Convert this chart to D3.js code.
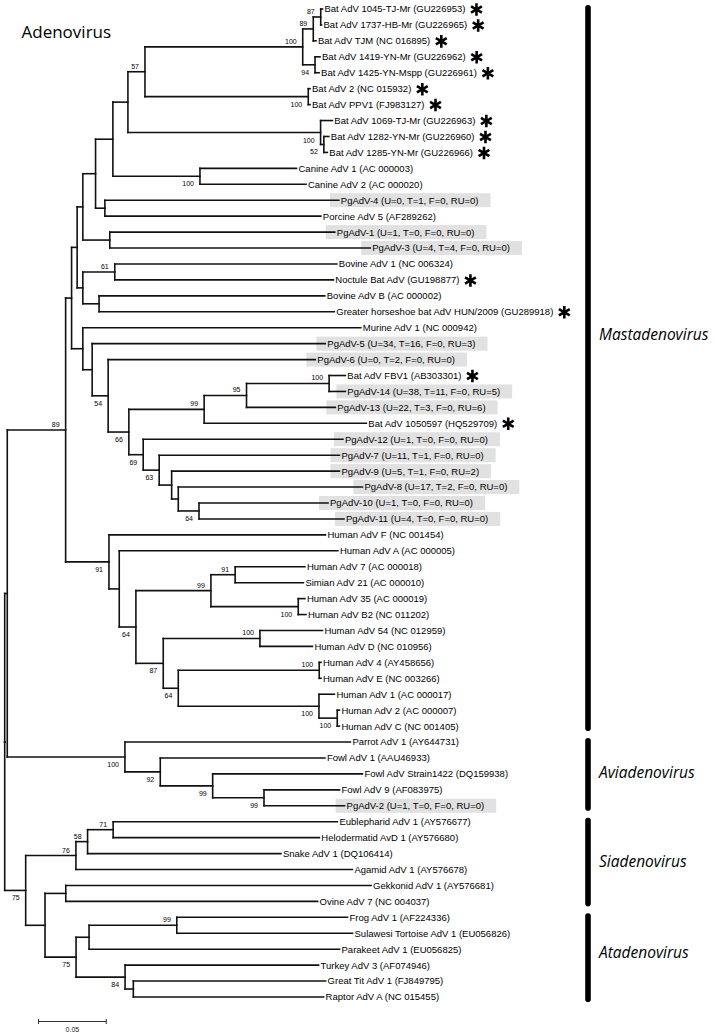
<!DOCTYPE html>
<html><head><meta charset="utf-8">
<script src="https://cdn.jsdelivr.net/npm/d3@7"></script>
<style>body{margin:0;background:#fff} svg{display:block} text{-webkit-font-smoothing:antialiased}</style>
</head><body>
<svg id="chart" width="715" height="1035"></svg>
<script>
// ---------------- DATA ----------------
const leafLabels = [
 "Bat AdV 1045-TJ-Mr (GU226953)","Bat AdV 1737-HB-Mr (GU226965)","Bat AdV TJM (NC 016895)",
 "Bat AdV 1419-YN-Mr (GU226962)","Bat AdV 1425-YN-Mspp (GU226961)","Bat AdV 2 (NC 015932)",
 "Bat AdV PPV1 (FJ983127)","Bat AdV 1069-TJ-Mr (GU226963)","Bat AdV 1282-YN-Mr (GU226960)",
 "Bat AdV 1285-YN-Mr (GU226966)","Canine AdV 1 (AC 000003)","Canine AdV 2 (AC 000020)",
 "PgAdV-4 (U=0, T=1, F=0, RU=0)","Porcine AdV 5 (AF289262)","PgAdV-1 (U=1, T=0, F=0, RU=0)",
 "PgAdV-3 (U=4, T=4, F=0, RU=0)","Bovine AdV 1 (NC 006324)","Noctule Bat AdV (GU198877)",
 "Bovine AdV B (AC 000002)","Greater horseshoe bat AdV HUN/2009 (GU289918)","Murine AdV 1 (NC 000942)",
 "PgAdV-5 (U=34, T=16, F=0, RU=3)","PgAdV-6 (U=0, T=2, F=0, RU=0)","Bat AdV FBV1 (AB303301)",
 "PgAdV-14 (U=38, T=11, F=0, RU=5)","PgAdV-13 (U=22, T=3, F=0, RU=6)","Bat AdV 1050597 (HQ529709)",
 "PgAdV-12 (U=1, T=0, F=0, RU=0)","PgAdV-7 (U=11, T=1, F=0, RU=0)","PgAdV-9 (U=5, T=1, F=0, RU=2)",
 "PgAdV-8 (U=17, T=2, F=0, RU=0)","PgAdV-10 (U=1, T=0, F=0, RU=0)","PgAdV-11 (U=4, T=0, F=0, RU=0)",
 "Human AdV F (NC 001454)","Human AdV A (AC 000005)","Human AdV 7 (AC 000018)",
 "Simian AdV 21 (AC 000010)","Human AdV 35 (AC 000019)","Human AdV B2 (NC 011202)",
 "Human AdV 54 (NC 012959)","Human AdV D (NC 010956)","Human AdV 4 (AY458656)",
 "Human AdV E (NC 003266)","Human AdV 1 (AC 000017)","Human AdV 2 (AC 000007)",
 "Human AdV C (NC 001405)","Parrot AdV 1 (AY644731)","Fowl AdV 1 (AAU46933)",
 "Fowl AdV Strain1422 (DQ159938)","Fowl AdV 9 (AF083975)","PgAdV-2 (U=1, T=0, F=0, RU=0)",
 "Eublepharid AdV 1 (AY576677)","Helodermatid AvD 1 (AY576680)","Snake AdV 1 (DQ106414)",
 "Agamid AdV 1 (AY576678)","Gekkonid AdV 1 (AY576681)","Ovine AdV 7 (NC 004037)",
 "Frog AdV 1 (AF224336)","Sulawesi Tortoise AdV 1 (EU056826)","Parakeet AdV 1 (EU056825)",
 "Turkey AdV 3 (AF074946)","Great Tit AdV 1 (FJ849795)","Raptor AdV A (NC 015455)"
];
// leaves found in pigeons (grey box) and bat viruses (asterisk)
const highlightedLeaves = [12,14,15,21,22,24,25,27,28,29,30,31,32,50];
const batLeaves = [0,1,2,3,4,5,6,7,8,9,17,19,23,26];

// Tree (Newick, leaf names = index in leafLabels, internal names = bootstrap, lengths = subst./site)
const batSubtree = "(((((0:0.0013,1:0.0006)87:0.0055,2:0.0020)89:0.0078,(3:0.0037,4:0.0030)94:0.0091)100:0.1165,(5:0.0013,6:0.0013)100:0.1206)57:0.0126,(7:0.0087,(8:0.0037,9:0.0026)52:0.0024)100:0.1423)";
const mammalSubtree = `((((((${batSubtree}:0.0111,(10:0.0713,11:0.0783)100:0.0643):0.0128,(12:0.1728,13:0.1595):0.0069):0.0094,(14:0.1662,15:0.1924):0.0199):0.0042,((16:0.1640,17:0.1614)61:0.0236,(18:0.1667,19:0.1737):0.0120):0.0042)`;
const pigeonSubtree = "((((23:0.0120,24:0.0120)100:0.0610,25:0.0656)95:0.0313,26:0.1198)99:0.0556,(27:0.1475,(28:0.1331,(29:0.1239,(30:0.1360,(31:0.0953,32:0.1071)64:0.0153):0.0049):0.0092)63:0.0118)69:0.0106)66";
const murineSubtree = `(20:0.2053,(21:0.1722,(22:0.1530,${pigeonSubtree}:0.0153)54:0.0118):0.0069)`;
const humanSubtree = "(33:0.1599,(34:0.1615,(((35:0.0515,36:0.0504)91:0.0179,(37:0.0049,38:0.0057)100:0.0645)99:0.0554,((39:0.0462,40:0.0388)100:0.0714,((41:0.0013,42:0.0013)100:0.1041,(43:0.0114,(44:0.0016,45:0.0016)100:0.0135)100:0.1039)64:0.0111)87:0.0202)64:0.0123):0.0076)91";
const aviSubtree = "(46:0.1665,(47:0.1216,(48:0.1106,(49:0.0558,50:0.0595)99:0.0379)99:0.0387)92:0.0261)100";
const siaAtaSubtree = "((((51:0.1656,52:0.1523)71:0.0189,53:0.1428)58:0.0086,54:0.2042)76:0.0371,((55:0.2255,56:0.1860):0.0153,(((57:0.1261,58:0.1298)99:0.0648,59:0.1850):0.0096,(60:0.1429,(61:0.1420,62:0.1405):0.0061)84:0.0362)75:0.0229):0.0143)75";
const newick = `((((${mammalSubtree}:0.0041,${murineSubtree}:0.0083):0.0044,${humanSubtree}:0.0320)89:0.0431,${aviSubtree}:0.0869):0.0019,${siaAtaSubtree}:0.0155);`;

const groupNames = ["Mastadenovirus","Aviadenovirus","Siadenovirus","Atadenovirus"];
const groupFirstLeaf = [0,46,51,57];
const groupLastLeaf = [45,50,56,62];
const groupLabelRow = [20.45,47.9,53.5,59.2];

const scaleBarValue = 0.05;
const titleText = "Adenovirus";

// ---------------- PARSE ----------------
function parseNewick(s){
  let i=0;
  function node(){
    const n={};
    if(s[i]==='('){
      n.children=[]; i++;
      n.children.push(node());
      while(s[i]===','){i++; n.children.push(node());}
      i++;
    }
    let name=''; while(i<s.length && !':,);'.includes(s[i])) name+=s[i++];
    n.name=name.trim();
    n.length=0;
    if(s[i]===':'){i++; let l=''; while(i<s.length && !',);'.includes(s[i])) l+=s[i++]; n.length=+l;}
    return n;
  }
  return node();
}
const root = d3.hierarchy(parseNewick(newick));

// ---------------- SCALES ----------------
const pxPerUnit = 1354;
const x = d3.scaleLinear().domain([0,0.3]).range([4.7, 4.7+0.3*pxPerUnit]);
const y = d3.scaleLinear().domain([0,leafLabels.length-1]).range([9,997]);

root.eachBefore(n => { n.dist = n.parent ? n.parent.dist + n.data.length : 0; });
root.eachAfter(n => {
  if(n.children){ n.py = (n.children[0].py + n.children[n.children.length-1].py)/2; }
  else { n.py = y(+n.data.name); }
  n.px = x(n.dist);
});

const svg = d3.select("#chart");
const ink = "#111";
const sans = "'Liberation Sans', Arial, sans-serif";

// title
svg.append("text").attr("x",21.5).attr("y",38).attr("font-family","'Open Sans', sans-serif")
  .attr("font-size",17).attr("fill","#000").text(titleText);

const boxG = svg.append("g");
const linkG = svg.append("g").attr("fill","none").attr("stroke",ink).attr("stroke-width",1.6).attr("stroke-linecap","square");
const textG = svg.append("g");

// horizontal branches
linkG.selectAll("path.h").data(root.descendants().filter(d=>d.parent)).join("path")
  .attr("d", d => `M${d.parent.px},${d.py}H${d.px}`);
// vertical connectors
linkG.selectAll("path.v").data(root.descendants().filter(d=>d.children)).join("path")
  .attr("d", d => `M${d.px},${d.children[0].py}V${d.children[d.children.length-1].py}`);

// bootstrap values
textG.selectAll("text.bs").data(root.descendants().filter(d=>d.children && d.data.name && d.parent)).join("text")
  .attr("x", d => d.px - 6)
  .attr("y", d => d.parent.children[0]===d ? d.py - 3 : d.py + 10)
  .attr("text-anchor","end").attr("font-family",sans).attr("font-size",7).attr("fill","#000")
  .text(d => d.data.name);

// leaf labels
const leaves = root.leaves();
const labels = textG.selectAll("text.leaf").data(leaves).join("text")
  .attr("x", d => d.px + 2).attr("y", d => d.py).attr("dy","0.36em")
  .attr("font-family",sans).attr("font-size",9.5).attr("fill","#000")
  .text(d => leafLabels[+d.data.name]);

labels.each(function(d){ d.tw = this.getComputedTextLength(); });

// grey boxes
boxG.selectAll("rect").data(leaves.filter(d=>highlightedLeaves.includes(+d.data.name))).join("rect")
  .attr("x", d => d.px + 2 - 11).attr("y", d => d.py - 7)
  .attr("width", d => d.tw + 23).attr("height",14).attr("fill","#e1e1e1");

// asterisks for bat viruses
const star = d3.symbol().type(d3.symbolAsterisk).size(110);
textG.selectAll("path.star").data(leaves.filter(d=>batLeaves.includes(+d.data.name))).join("path")
  .attr("transform", d => `translate(${d.px + 2 + d.tw + 11},${d.py + 0.5})`)
  .attr("d", star).attr("stroke","#000").attr("stroke-width",2.6).attr("fill","none");

// group bars & labels
const barX = 588;
const groups = groupNames.map((g,i)=>({name:g, y1:y(groupFirstLeaf[i])-4, y2:y(groupLastLeaf[i])+5, ly:y(groupLabelRow[i])}));
svg.append("g").selectAll("line").data(groups).join("line")
  .attr("x1",barX).attr("x2",barX).attr("y1",d=>d.y1+2.8).attr("y2",d=>d.y2-2.8)
  .attr("stroke","#000").attr("stroke-width",5.6).attr("stroke-linecap","round");
svg.append("g").selectAll("text").data(groups).join("text")
  .attr("x",599).attr("y",d=>d.ly).attr("dy","0.35em")
  .attr("font-family","'Open Sans', sans-serif").attr("font-style","italic").attr("font-size",15.5).attr("fill","#000")
  .text(d=>d.name);

// scale bar
const sbY = 1021.5, sb0 = 0.025;
const sb = svg.append("g").attr("stroke","#333").attr("stroke-width",1);
sb.append("line").attr("x1",x(sb0)).attr("x2",x(sb0+scaleBarValue)).attr("y1",sbY).attr("y2",sbY);
[sb0, sb0+scaleBarValue].forEach(v => sb.append("line").attr("x1",x(v)).attr("x2",x(v)).attr("y1",sbY-2.5).attr("y2",sbY+2.5));
svg.append("text").attr("x",(x(sb0)+x(sb0+scaleBarValue))/2).attr("y",1031.5).attr("text-anchor","middle")
  .attr("font-family",sans).attr("font-size",7).attr("fill","#222").text(String(scaleBarValue));
</script>
</body></html>
